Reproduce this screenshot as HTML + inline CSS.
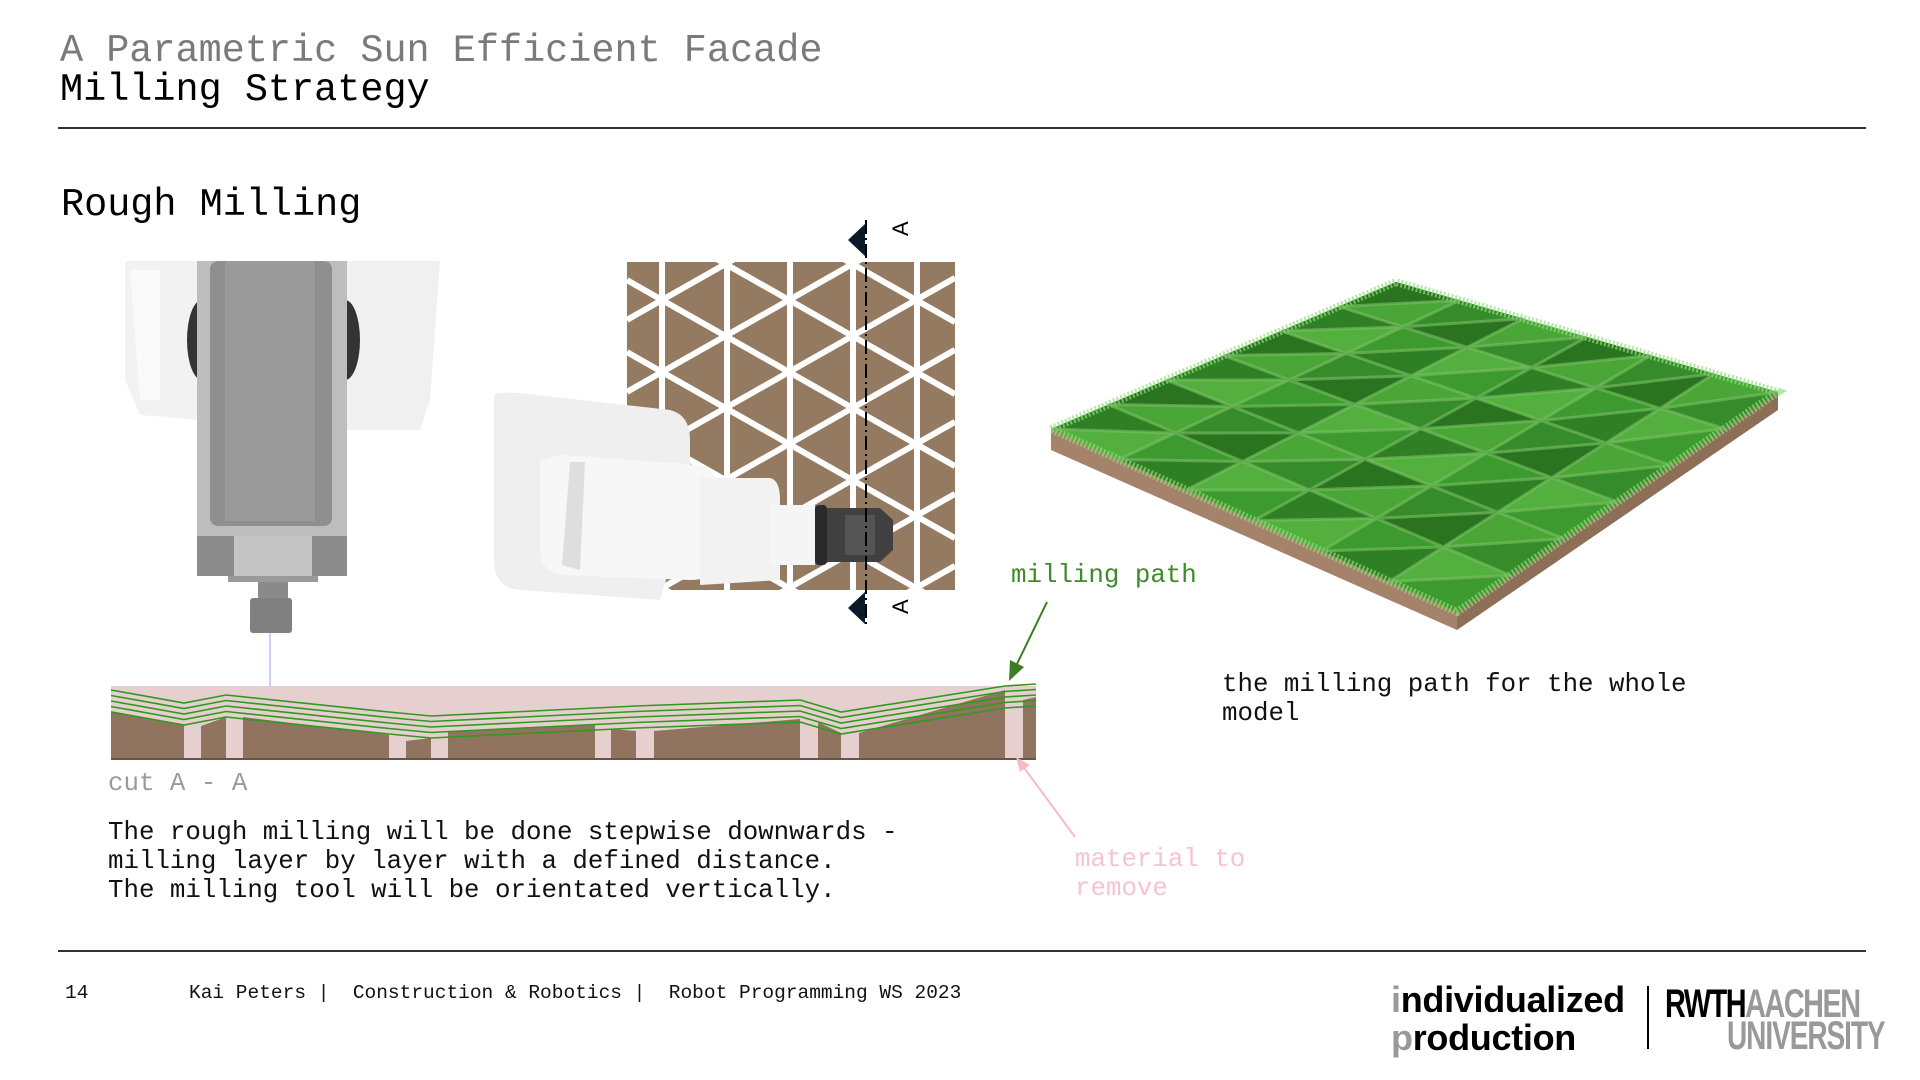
<!DOCTYPE html>
<html><head><meta charset="utf-8"><style>
html,body{margin:0;padding:0;background:#fff;overflow:hidden;}
body{width:1920px;height:1080px;position:relative;overflow:hidden;font-family:"Liberation Mono",monospace;}
.t{position:absolute;white-space:pre;line-height:1;}
</style></head><body>
<div class="t" style="left:60px;top:32px;font-size:38.5px;color:#7a7a7a;">A Parametric Sun Efficient Facade</div>
<div class="t" style="left:60px;top:71px;font-size:38.5px;color:#000;">Milling Strategy</div>
<div style="position:absolute;left:58px;top:127px;width:1808px;height:2px;background:#333;"></div>
<div class="t" style="left:61px;top:186px;font-size:38.5px;color:#000;">Rough Milling</div>

<svg style="position:absolute;left:0;top:0" width="1920" height="1080" id="s">
<g>
<path d="M125 261 L200 261 L200 420 L140 415 L125 380 Z" fill="#f2f2f2"/>
<path d="M340 261 L440 261 L430 400 L420 430 L345 430 Z" fill="#f0f0f0"/>
<path d="M130 270 L160 270 L160 400 L140 400 Z" fill="#fafafa"/>
<ellipse cx="202" cy="340" rx="15" ry="40" fill="#333"/>
<ellipse cx="345" cy="340" rx="15" ry="40" fill="#333"/>
<rect x="197" y="261" width="150" height="315" fill="#bdbdbd"/>
<rect x="210" y="261" width="122" height="265" rx="8" fill="#8f8f8f"/>
<rect x="225" y="261" width="90" height="260" fill="#9a9a9a"/>
<rect x="197" y="536" width="150" height="40" fill="#8c8c8c"/>
<rect x="234" y="536" width="78" height="40" fill="#c4c4c4"/>
<rect x="228" y="576" width="90" height="6" fill="#9a9a9a"/>
<rect x="258" y="582" width="30" height="18" fill="#8a8a8a"/>
<rect x="250" y="598" width="42" height="35" rx="3" fill="#808080"/>
<line x1="270" y1="633" x2="270" y2="720" stroke="#a0a0ff" stroke-width="1"/>
</g>
<rect x="627" y="262" width="328" height="328" fill="#957a62"/>
<g id="grid" stroke="#fff" stroke-width="6"></g>
<g>
<path d="M494 395 Q495 392 520 393 L670 410 Q690 415 690 440 L690 500 L660 600 L520 590 Q494 588 494 560 Z" fill="#efefef"/>
<path d="M540 460 L560 455 L700 465 Q720 470 720 500 L720 560 Q715 580 690 580 L560 575 Q540 570 540 550 Z" fill="#f7f7f7"/>
<path d="M570 462 L585 462 L580 570 L562 565 Z" fill="#dedede"/>
<path d="M700 478 L770 478 Q780 480 780 500 L780 580 L700 585 Z" fill="#f2f2f2"/>
<rect x="770" y="505" width="45" height="60" fill="#f5f5f5"/>
<rect x="815" y="505" width="12" height="60" rx="4" fill="#2a2a2a"/>
<path d="M827 508 L880 508 L893 520 L893 550 L880 562 L827 562 Z" fill="#404040"/>
<rect x="845" y="515" width="30" height="40" fill="#555"/>
</g>
<line x1="866" y1="220" x2="866" y2="627" stroke="#000" stroke-width="2" stroke-dasharray="14,4,2,4"/>
<path d="M865 224 L848 240 L865 256 Z" fill="#0b1a2a"/>
<path d="M865 592 L848 608 L865 624 Z" fill="#0b1a2a"/>
<text x="0" y="0" transform="translate(908,236) rotate(-90)" font-family="Liberation Sans,sans-serif" font-size="22" fill="#000">A</text>
<text x="0" y="0" transform="translate(908,614) rotate(-90)" font-family="Liberation Sans,sans-serif" font-size="22" fill="#000">A</text>

<rect x="111" y="686" width="925" height="73" fill="#e6cfcf"/>
<path d="M111 711 L184 725 L184 759 L111 759 Z" fill="#917460"/>
<path d="M201 726 L226 717 L226 759 L201 759 Z" fill="#917460"/>
<path d="M243 717 L389 735 L389 759 L243 759 Z" fill="#917460"/>
<path d="M406 741 L431 738 L431 759 L406 759 Z" fill="#917460"/>
<path d="M448 731 L595 724 L595 759 L448 759 Z" fill="#917460"/>
<path d="M611 729 L636 731 L636 759 L611 759 Z" fill="#917460"/>
<path d="M654 731 L800 719 L800 759 L654 759 Z" fill="#917460"/>
<path d="M818 722 L841 733 L841 759 L818 759 Z" fill="#917460"/>
<path d="M859 733 L1005 690 L1005 759 L859 759 Z" fill="#917460"/>
<path d="M1023 700 L1036 697 L1036 759 L1023 759 Z" fill="#917460"/>
<line x1="111" y1="759" x2="1036" y2="759" stroke="#6a5545" stroke-width="2"/>
<g fill="none" stroke="#2f9a1e" stroke-width="1.6" id="gl"></g>

<polygon points="1051,429 1457,612 1457,630 1051,450" fill="#a4836a"/>
<polygon points="1457,612 1778,392 1778,410 1457,630" fill="#8d6f58"/>
<polygon points="1051,429 1396,282 1778,392 1457,612" fill="#3a8f2c"/>
<g id="tri"></g>
<polygon points="1051,429 1396,282 1778,392 1457,612" fill="none" stroke="#8fe07a" stroke-width="8" stroke-dasharray="2,2" opacity="0.7"/>
<g stroke="#7cc067" stroke-width="3" opacity="0.6" id="mg"></g>

<line x1="1047" y1="602" x2="1016" y2="666" stroke="#3a7d22" stroke-width="2"/>
<path d="M1009 681 L1010 660 L1024 667 Z" fill="#3a7d22"/>
<line x1="1075" y1="837" x2="1022" y2="765" stroke="#f3bcc8" stroke-width="2"/>
<path d="M1016 757 L1030 765 L1020 772 Z" fill="#f3bcc8"/>
</svg>

<div class="t" style="left:1011px;top:563px;font-size:25.8px;color:#3f8a2a;">milling path</div>
<div class="t" style="left:1222px;top:670px;font-size:25.8px;color:#111;line-height:29px;">the milling path for the whole
model</div>
<div class="t" style="left:108px;top:771px;font-size:25.8px;color:#9a9a9a;">cut A - A</div>
<div class="t" style="left:108px;top:818px;font-size:25.8px;color:#111;line-height:29px;">The rough milling will be done stepwise downwards -
milling layer by layer with a defined distance.
The milling tool will be orientated vertically.</div>
<div class="t" style="left:1075px;top:845px;font-size:25.8px;color:#f5c4cf;line-height:29px;">material to
remove</div>

<div style="position:absolute;left:58px;top:950px;width:1808px;height:2px;background:#333;"></div>
<div class="t" style="left:65px;top:984px;font-size:19.5px;color:#111;">14</div>
<div class="t" style="left:189px;top:984px;font-size:19.5px;color:#111;">Kai Peters |  Construction &amp; Robotics |  Robot Programming WS 2023</div>

<div class="t" style="left:1391px;top:982px;font-family:'Liberation Sans',sans-serif;font-weight:bold;font-size:36px;color:#000;letter-spacing:-0.3px;"><span style="color:#999">i</span>ndividualized</div>
<div class="t" style="left:1391px;top:1020px;font-family:'Liberation Sans',sans-serif;font-weight:bold;font-size:36px;color:#000;letter-spacing:-0.3px;"><span style="color:#999">p</span>roduction</div>
<div style="position:absolute;left:1647px;top:986px;width:2px;height:63px;background:#000;"></div>
<div class="t" style="left:1665px;top:984px;font-family:'Liberation Sans',sans-serif;font-weight:bold;font-size:40px;transform:scaleX(0.72);transform-origin:0 0;letter-spacing:-2px;"><span style="color:#000">RWTH</span><span style="color:#999">AACHEN</span></div>
<div class="t" style="left:1727px;top:1016px;font-family:'Liberation Sans',sans-serif;font-weight:bold;font-size:40px;color:#999;transform:scaleX(0.70);transform-origin:0 0;letter-spacing:-1.5px;">UNIVERSITY</div>

<script>
var ns="http://www.w3.org/2000/svg";
var g=document.getElementById('grid');
function ln(p,x1,y1,x2,y2){var l=document.createElementNS(ns,'line');l.setAttribute('x1',x1);l.setAttribute('y1',y1);l.setAttribute('x2',x2);l.setAttribute('y2',y2);p.appendChild(l);}
[662,727,790,853,917].forEach(function(x){ln(g,x,262,x,590);});
var k=0.567;
for(var i=-12;i<14;i++){var y0=300+72*i;
 ln(g,627,y0+k*(627-662),955,y0+k*(955-662));
 ln(g,627,y0-k*(627-662),955,y0-k*(955-662));}
var cp=document.createElementNS(ns,'clipPath');cp.id='c1';var r=document.createElementNS(ns,'rect');r.setAttribute('x',627);r.setAttribute('y',262);r.setAttribute('width',328);r.setAttribute('height',328);cp.appendChild(r);document.getElementById('s').appendChild(cp);g.setAttribute('clip-path','url(#c1)');
var gl=document.getElementById('gl');
var xs=[111,184,226,389,431,595,636,800,841,1005,1036];
var base=[690,703,695,712,716,708,706,700,712,686,684];
for(var j=0;j<5;j++){var pts=[];for(var m=0;m<xs.length;m++){pts.push(xs[m]+','+Math.min(base[m]+j*5.5,760));}
 var pl=document.createElementNS(ns,'polyline');pl.setAttribute('points',pts.join(' '));gl.appendChild(pl);}
var mg=document.getElementById('mg');
function L(a,b,f){return [a[0]+(b[0]-a[0])*f,a[1]+(b[1]-a[1])*f];}
var A=[1051,429],B=[1396,282],C=[1778,392],D=[1457,612];
function P(u,v){var p=L(A,B,u),q=L(D,C,u);return L(p,q,v);}
var tri=document.getElementById('tri');var N=6;
var cols=['#2f7f24','#4aa636','#3d9a2e','#2a7420','#53b03e','#368c2a'];
for(var u=0;u<N;u++)for(var v=0;v<N;v++){
 var a=P(u/N,v/N),b=P((u+1)/N,v/N),c=P((u+1)/N,(v+1)/N),d=P(u/N,(v+1)/N);
 [[a,b,c],[a,c,d]].forEach(function(t,ti){var pg=document.createElementNS(ns,'polygon');
 pg.setAttribute('points',t.map(function(p){return p[0]+','+p[1];}).join(' '));
 pg.setAttribute('fill',cols[(u*3+v*2+ti*4)%6]);tri.appendChild(pg);});}
for(var t=1;t<N;t++){var f=t/N;var p=L(A,B,f),q=L(D,C,f);ln(mg,p[0],p[1],q[0],q[1]);
 var p2=L(A,D,f),q2=L(B,C,f);ln(mg,p2[0],p2[1],q2[0],q2[1]);}
for(var u=0;u<N;u++)for(var v=0;v<N;v++){var a=P(u/N,v/N),c=P((u+1)/N,(v+1)/N);ln(mg,a[0],a[1],c[0],c[1]);}
</script>
</body></html>
